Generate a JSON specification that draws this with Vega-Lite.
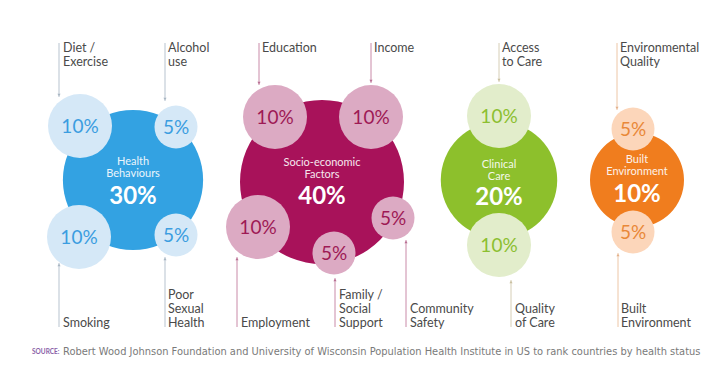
{
  "$schema": "https://vega.github.io/schema/vega-lite/v6.json",
  "width": 722,
  "height": 382,
  "autosize": {"type": "fit", "contains": "padding"},
  "padding": 0,
  "background": "white",
  "config": {"view": {"stroke": null}, "font": "Lato"},
  "datasets": {
    "big": [
      {"group": "H", "name": "Health\nBehaviours", "pct": 30, "label": "30%", "x": 133, "y": 180, "ny": 162, "py": 197},
      {"group": "S", "name": "Socio-economic\nFactors", "pct": 40, "label": "40%", "x": 322, "y": 182, "ny": 163, "py": 197},
      {"group": "C", "name": "Clinical\nCare", "pct": 20, "label": "20%", "x": 499, "y": 180, "ny": 165, "py": 198},
      {"group": "B", "name": "Built\nEnvironment", "pct": 10, "label": "10%", "x": 637, "y": 180, "ny": 160, "py": 195}
    ],
    "small": [
      {"group": "H", "factor": "Diet / Exercise", "pct": 10, "label": "10%", "x": 80, "y": 126},
      {"group": "H", "factor": "Alcohol use", "pct": 5, "label": "5%", "x": 176, "y": 127},
      {"group": "H", "factor": "Smoking", "pct": 10, "label": "10%", "x": 79, "y": 237},
      {"group": "H", "factor": "Poor Sexual Health", "pct": 5, "label": "5%", "x": 176, "y": 235},
      {"group": "S", "factor": "Education", "pct": 10, "label": "10%", "x": 275, "y": 117},
      {"group": "S", "factor": "Income", "pct": 10, "label": "10%", "x": 371, "y": 117},
      {"group": "S", "factor": "Employment", "pct": 10, "label": "10%", "x": 258, "y": 227},
      {"group": "S", "factor": "Family / Social Support", "pct": 5, "label": "5%", "x": 334, "y": 253},
      {"group": "S", "factor": "Community Safety", "pct": 5, "label": "5%", "x": 393, "y": 218},
      {"group": "C", "factor": "Access to Care", "pct": 10, "label": "10%", "x": 499, "y": 116},
      {"group": "C", "factor": "Quality of Care", "pct": 10, "label": "10%", "x": 499, "y": 245},
      {"group": "B", "factor": "Environmental Quality", "pct": 5, "label": "5%", "x": 633, "y": 129},
      {"group": "B", "factor": "Built Environment", "pct": 5, "label": "5%", "x": 633, "y": 232}
    ],
    "lines": [
      {"group": "H", "x": 59, "y1": 43, "y2": 97, "ay": 95, "dir": "down"},
      {"group": "H", "x": 165, "y1": 43, "y2": 101, "ay": 99, "dir": "down"},
      {"group": "H", "x": 59, "y1": 263, "y2": 327, "ay": 265, "dir": "up"},
      {"group": "H", "x": 165, "y1": 257, "y2": 327, "ay": 259, "dir": "up"},
      {"group": "S", "x": 259, "y1": 43, "y2": 85, "ay": 83, "dir": "down"},
      {"group": "S", "x": 371, "y1": 43, "y2": 83, "ay": 81, "dir": "down"},
      {"group": "S", "x": 237, "y1": 257, "y2": 327, "ay": 259, "dir": "up"},
      {"group": "S", "x": 335, "y1": 278, "y2": 327, "ay": 280, "dir": "up"},
      {"group": "S", "x": 406, "y1": 240, "y2": 327, "ay": 242, "dir": "up"},
      {"group": "C", "x": 499, "y1": 43, "y2": 82, "ay": 80, "dir": "down"},
      {"group": "C", "x": 511, "y1": 280, "y2": 327, "ay": 282, "dir": "up"},
      {"group": "B", "x": 617, "y1": 43, "y2": 110, "ay": 108, "dir": "down"},
      {"group": "B", "x": 618, "y1": 253, "y2": 327, "ay": 255, "dir": "up"}
    ],
    "labels": [
      {"text": "Diet /\nExercise", "x": 63, "y": 48},
      {"text": "Alcohol\nuse", "x": 168, "y": 48},
      {"text": "Education", "x": 262, "y": 48},
      {"text": "Income", "x": 374, "y": 48},
      {"text": "Access\nto Care", "x": 502, "y": 48},
      {"text": "Environmental\nQuality", "x": 620, "y": 48},
      {"text": "Smoking", "x": 63, "y": 323},
      {"text": "Poor\nSexual\nHealth", "x": 168, "y": 295},
      {"text": "Employment", "x": 241, "y": 323},
      {"text": "Family /\nSocial\nSupport", "x": 339, "y": 295},
      {"text": "Community\nSafety", "x": 410, "y": 309},
      {"text": "Quality\nof Care", "x": 515, "y": 309},
      {"text": "Built\nEnvironment", "x": 621, "y": 309}
    ],
    "source": [
      {"part": "label", "text": "SOURCE:", "x": 32, "y": 352},
      {"part": "body", "text": "Robert Wood Johnson Foundation and University of Wisconsin Population Health Institute in US to rank countries by health status", "x": 63, "y": 352}
    ]
  },
  "layer": [
    {
      "data": {"name": "lines"},
      "mark": {"type": "rule", "strokeWidth": 1},
      "encoding": {
        "x": {"field": "x", "type": "quantitative", "scale": {"domain": [0, 722], "nice": false, "zero": false}, "axis": null},
        "y": {"field": "y1", "type": "quantitative", "scale": {"domain": [0, 382], "reverse": true, "nice": false, "zero": false}, "axis": null},
        "y2": {"field": "y2"},
        "color": {"field": "group", "type": "nominal", "scale": {"domain": ["H", "S", "C", "B"], "range": ["#b7c3cf", "#c98aa8", "#d6ceb6", "#edc6a6"]}, "legend": null}
      }
    },
    {
      "data": {"name": "lines"},
      "mark": {"type": "point", "filled": true, "opacity": 1, "size": 10},
      "encoding": {
        "x": {"field": "x", "type": "quantitative", "axis": null},
        "y": {"field": "ay", "type": "quantitative", "axis": null},
        "shape": {"field": "dir", "type": "nominal", "scale": {"domain": ["down", "up"], "range": ["triangle-down", "triangle-up"]}, "legend": null},
        "color": {"field": "group", "type": "nominal", "scale": {"domain": ["H", "S", "C", "B"], "range": ["#a8b5c2", "#b86f92", "#c9bf9f", "#e3b08a"]}, "legend": null}
      }
    },
    {
      "data": {"name": "big"},
      "mark": {"type": "point", "shape": "circle", "filled": true, "opacity": 1, "strokeWidth": 0},
      "encoding": {
        "x": {"field": "x", "type": "quantitative", "axis": null},
        "y": {"field": "y", "type": "quantitative", "axis": null},
        "size": {"field": "pct", "type": "quantitative", "scale": {"type": "pow", "exponent": 1.5, "domain": [10, 40], "range": [8836, 26896]}, "legend": null},
        "color": {"field": "group", "type": "nominal", "scale": {"domain": ["H", "S", "C", "B"], "range": ["#33a2e2", "#a8125a", "#8dc02c", "#f07d1e"]}, "legend": null}
      }
    },
    {
      "data": {"name": "small"},
      "mark": {"type": "point", "shape": "circle", "filled": true, "opacity": 1, "strokeWidth": 0},
      "encoding": {
        "x": {"field": "x", "type": "quantitative", "axis": null},
        "y": {"field": "y", "type": "quantitative", "axis": null},
        "size": {"field": "pct", "type": "quantitative", "scale": {"domain": [5, 10], "range": [1849, 4096]}, "legend": null},
        "color": {"field": "group", "type": "nominal", "scale": {"domain": ["H", "S", "C", "B"], "range": ["#d5e8f7", "#dcaac3", "#e2edcb", "#fcd6ba"]}, "legend": null}
      }
    },
    {
      "data": {"name": "small"},
      "mark": {"type": "text", "fontSize": 19, "baseline": "middle", "align": "center", "dy": 1},
      "encoding": {
        "x": {"field": "x", "type": "quantitative", "axis": null},
        "y": {"field": "y", "type": "quantitative", "axis": null},
        "text": {"field": "label"},
        "color": {"field": "group", "type": "nominal", "scale": {"domain": ["H", "S", "C", "B"], "range": ["#3b9de0", "#9e1a55", "#8cbf30", "#e98838"]}, "legend": null}
      }
    },
    {
      "data": {"name": "big"},
      "mark": {"type": "text", "fontSize": 11, "baseline": "middle", "align": "center", "lineBreak": "\n", "lineHeight": 12, "color": "white", "opacity": 0.9},
      "encoding": {
        "x": {"field": "x", "type": "quantitative", "axis": null},
        "y": {"field": "ny", "type": "quantitative", "axis": null},
        "text": {"field": "name"}
      }
    },
    {
      "data": {"name": "big"},
      "mark": {"type": "text", "fontSize": 24, "fontWeight": "bold", "baseline": "middle", "align": "center", "color": "white"},
      "encoding": {
        "x": {"field": "x", "type": "quantitative", "axis": null},
        "y": {"field": "py", "type": "quantitative", "axis": null},
        "text": {"field": "label"}
      }
    },
    {
      "data": {"name": "labels"},
      "mark": {"type": "text", "fontSize": 12.5, "baseline": "middle", "align": "left", "lineBreak": "\n", "lineHeight": 14, "color": "#4a4a4a"},
      "encoding": {
        "x": {"field": "x", "type": "quantitative", "axis": null},
        "y": {"field": "y", "type": "quantitative", "axis": null},
        "text": {"field": "text"}
      }
    },
    {
      "data": {"name": "source"},
      "transform": [{"filter": "datum.part == 'label'"}],
      "mark": {"type": "text", "fontSize": 6.5, "fontWeight": "bold", "baseline": "middle", "align": "left", "color": "#8a5fa8"},
      "encoding": {
        "x": {"field": "x", "type": "quantitative", "axis": null},
        "y": {"field": "y", "type": "quantitative", "axis": null},
        "text": {"field": "text"}
      }
    },
    {
      "data": {"name": "source"},
      "transform": [{"filter": "datum.part == 'body'"}],
      "mark": {"type": "text", "fontSize": 9.9, "font": "DejaVu Sans", "baseline": "middle", "align": "left", "color": "#7a7a7a"},
      "encoding": {
        "x": {"field": "x", "type": "quantitative", "axis": null},
        "y": {"field": "y", "type": "quantitative", "axis": null},
        "text": {"field": "text"}
      }
    }
  ],
  "resolve": {"scale": {"color": "independent", "size": "independent"}}
}
